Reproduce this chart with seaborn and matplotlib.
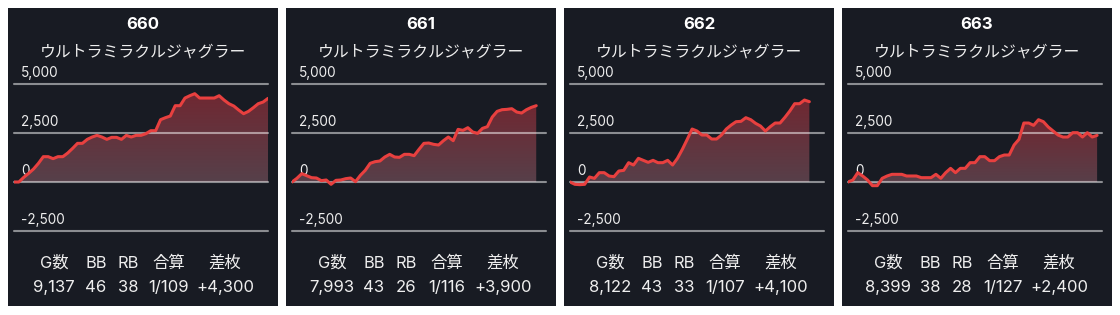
import numpy as np
import pandas as pd
import matplotlib
matplotlib.use("Agg")
import matplotlib.pyplot as plt
import seaborn as sns
from matplotlib.patches import Rectangle

# ---------------- data ----------------
machines = ["660", "661", "662", "663"]
model_name = "ウルトラミラクルジャグラー"

diff_660 = [0, 0, 238, 442, 663, 952, 1292, 1292, 1190, 1292, 1292, 1479, 1717, 1972, 1972,
            2176, 2295, 2380, 2295, 2176, 2278, 2278, 2176, 2380, 2295, 2380, 2380, 2465,
            2618, 2618, 3179, 3281, 3366, 3893, 3893, 4284, 4403, 4505, 4284, 4284, 4284,
            4284, 4403, 4182, 3995, 3876, 3672, 3485, 3604, 3791, 3995, 4080, 4267]
diff_661 = [0, 187, 425, 323, 221, 204, 68, 102, -119, 85, 102, 170, 204, 17, 340, 595,
            952, 1037, 1071, 1275, 1411, 1275, 1258, 1411, 1411, 1343, 1666, 1972, 1989,
            1921, 1887, 2108, 2295, 2108, 2686, 2635, 2771, 2550, 2482, 2737, 2822, 3315,
            3604, 3689, 3706, 3740, 3570, 3519, 3689, 3808, 3893]
diff_662 = [0, -119, -136, -119, 255, 187, 476, 476, 306, 272, 561, 595, 986, 867, 1207,
            1105, 1003, 1105, 986, 986, 1105, 867, 1207, 1666, 2176, 2703, 2601, 2397, 2397,
            2193, 2193, 2397, 2703, 2907, 3077, 3094, 3281, 3179, 2992, 2856, 2601, 2822,
            3009, 3009, 3298, 3621, 3995, 3995, 4182, 4097]
diff_663 = [0, 102, 476, 306, 102, -187, -187, 187, 306, 391, 391, 391, 306, 306, 306, 221,
            221, 221, 391, 187, 476, 697, 476, 697, 697, 986, 986, 1292, 1292, 1088, 1088,
            1292, 1377, 1377, 1887, 2176, 3009, 3009, 2890, 3179, 3077, 2805, 2601, 2397,
            2295, 2295, 2516, 2516, 2295, 2516, 2295, 2380]
series = [diff_660, diff_661, diff_662, diff_663]

stat_headers = ["G数", "BB", "RB", "合算", "差枚"]
games = ["9,137", "7,993", "8,122", "8,399"]
bb = ["46", "43", "43", "38"]
rb = ["38", "26", "33", "28"]
combined = ["1/109", "1/116", "1/107", "1/127"]
net = ["+4,300", "+3,900", "+4,100", "+2,400"]

y_ticks = [-2500, 0, 2500, 5000]
y_tick_labels = ["-2,500", "0", "2,500", "5,000"]

# ---------------- style ----------------
sns.set_theme(style="dark")
plt.rcParams['font.family'] = ['Inter', 'Noto Sans CJK JP', 'DejaVu Sans']

W, H = 1120, 315
fig = plt.figure(figsize=(W / 100, H / 100), dpi=100)
fig.patch.set_facecolor("white")

panel_bg = "#181b23"
line_color = "#e8403f"
grid_color = (1, 1, 1, 0.5)
text_color = "#eeeeee"
top_fill = np.array([112, 40, 50]) / 255
bot_fill = np.array([86, 64, 74]) / 255

max_len = max(len(s) for s in series)
col_offsets = [46, 88, 120, 161, 217]

for i, vals in enumerate(series):
    pl = 8 + 278 * i
    fig.add_artist(Rectangle((pl / W, (H - 306) / H), 270 / W, 298 / H,
                             transform=fig.transFigure, facecolor=panel_bg,
                             edgecolor="none", zorder=-5))
    ax = fig.add_axes([(pl + 6) / W, (H - 231) / H, 254 / W, 147 / H])
    ax.set_facecolor("none")
    for s in ax.spines.values():
        s.set_visible(False)

    df = pd.DataFrame({"idx": np.arange(len(vals)), "diff": vals})

    # tick labels (under the fill)
    for v, lab in zip(y_ticks, y_tick_labels):
        ax.annotate(lab, xy=(0, v), xycoords=("axes fraction", "data"),
                    xytext=(5.0, 5.0), textcoords="offset points",
                    ha="left", va="baseline", fontsize=9.8, color=text_color,
                    zorder=1, annotation_clip=False)

    # gradient fill between line and zero
    poly = ax.fill_between(df["idx"], df["diff"], 0, color="none", linewidth=0, zorder=2)
    ymax = max(vals)
    ymin = min(0, min(vals))
    t = np.linspace(0, 1, 256)[:, None]
    grad = (bot_fill[None, :] * (1 - t) + top_fill[None, :] * t)[:, None, :]
    im = ax.imshow(grad, extent=[0, len(vals) - 1, ymin, ymax], origin="lower",
                   aspect="auto", zorder=2, interpolation="bilinear")
    im.set_clip_path(poly.get_paths()[0], transform=ax.transData)

    # grid lines
    for v in y_ticks:
        ax.axhline(v, color=grid_color, linewidth=1.5, zorder=3, clip_on=False)

    sns.lineplot(data=df, x="idx", y="diff", ax=ax, color=line_color,
                 linewidth=2.2, zorder=4)

    ax.set_xlim(0, max_len - 1)
    ax.set_ylim(-2500, 5000)
    ax.set_xticks([])
    ax.set_yticks([])
    ax.set_xlabel("")
    ax.set_ylabel("")
    ax.grid(False)

    # header texts
    cx = (pl + 135) / W
    fig.text(cx, 1 - 29 / H, machines[i], ha="center", va="baseline",
             fontsize=12, fontweight="bold", color="white")
    fig.text(cx, 1 - 57 / H, model_name, ha="center", va="baseline",
             fontsize=11.4, color=text_color)

    # stats
    values = [games[i], bb[i], rb[i], combined[i], net[i]]
    for off, hdr, val in zip(col_offsets, stat_headers, values):
        fig.text((pl + off) / W, 1 - 268 / H, hdr, ha="center", va="baseline",
                 fontsize=11.8, color=text_color)
        fig.text((pl + off) / W, 1 - 292 / H, val, ha="center", va="baseline",
                 fontsize=12, color=text_color)

fig.savefig("out.png", dpi=100, facecolor="white")
